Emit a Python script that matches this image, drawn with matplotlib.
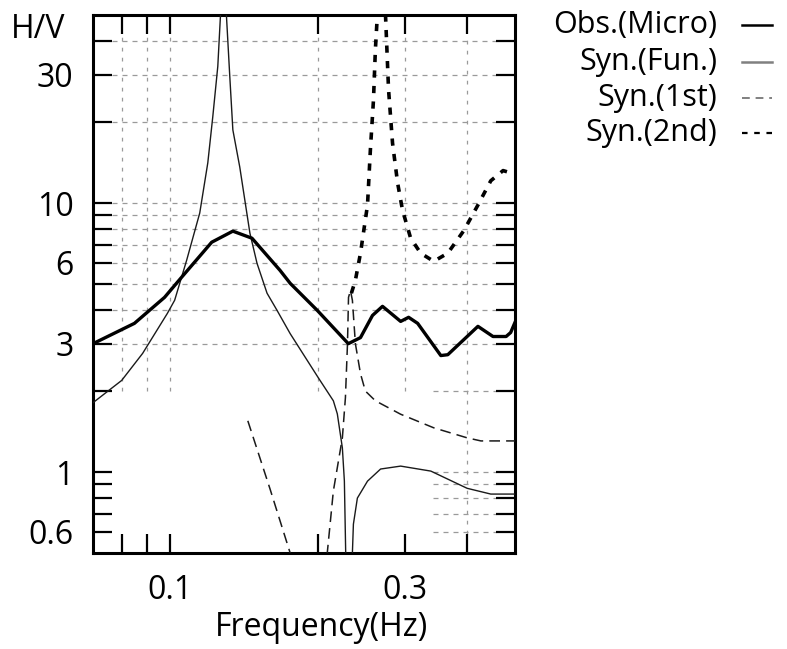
import numpy as np
import matplotlib
matplotlib.use("Agg")
import matplotlib.pyplot as plt
from matplotlib.lines import Line2D
from matplotlib.ticker import FixedLocator, FixedFormatter, NullLocator

plt.rcParams["font.family"] = ["Open Sans", "DejaVu Sans"]

# ---------------------------------------------------------------------------
# Data
# ---------------------------------------------------------------------------
obs_f = [0.07, 0.0849, 0.0977, 0.1058, 0.1217, 0.1343, 0.1468, 0.1673, 0.1754,
         0.199, 0.230, 0.2434, 0.2574, 0.2697, 0.2935, 0.3046, 0.3177, 0.3539,
         0.3656, 0.4207, 0.4513, 0.4797, 0.49, 0.5]
obs_hv = [3.0, 3.57, 4.46, 5.3, 7.15, 7.86, 7.40, 5.62, 5.03,
          3.99, 3.0, 3.16, 3.82, 4.13, 3.63, 3.76, 3.57, 2.71,
          2.73, 3.48, 3.19, 3.19, 3.3, 3.6]

fun_f = [0.07, 0.08, 0.0882, 0.099, 0.1024, 0.1083, 0.1151, 0.1195, 0.1223,
         0.1252, 0.1285, 0.1324, 0.1343, 0.1387, 0.1420, 0.1454, 0.1503, 0.1575,
         0.165, 0.1754, 0.2, 0.2145, 0.2185, 0.2237, 0.2258, 0.2272, 0.2295,
         0.2344, 0.2355, 0.2399, 0.2515, 0.2673, 0.2935, 0.3378, 0.4, 0.4467, 0.5]
fun_hv = [1.81, 2.19, 2.76, 3.89, 4.35, 6.13, 9.18, 14.1, 20.9,
          32.2, 80.0, 29.5, 18.7, 13.6, 10.26, 7.73, 5.97, 4.62,
          3.99, 3.27, 2.24, 1.84, 1.645, 1.23, 0.926, 0.5, 0.12,
          0.5, 0.64, 0.80, 0.925, 1.026, 1.052, 1.008, 0.87, 0.828, 0.828]

first_f = [0.144, 0.1597, 0.1754, 0.19, 0.2085, 0.2145, 0.2237, 0.2269, 0.2291,
           0.2302, 0.2323, 0.2344, 0.2377, 0.2434, 0.249, 0.2609, 0.2935, 0.3424,
           0.4, 0.4266, 0.5]
first_hv = [1.55, 0.865, 0.5, 0.25, 0.5, 0.85, 1.34, 1.89, 3.0,
            4.46, 4.73, 4.35, 3.0, 2.32, 2.0, 1.84, 1.64, 1.46,
            1.34, 1.305, 1.305]

second_f = [0.2333, 0.2377, 0.2434, 0.2515, 0.2549, 0.2586, 0.2609, 0.2633, 0.268,
            0.2735, 0.2774, 0.2826, 0.2893, 0.296, 0.3075, 0.3222, 0.3424, 0.3656,
            0.394, 0.4207, 0.4467, 0.473, 0.5]
second_hv = [4.62, 5.16, 6.51, 9.83, 15.8, 24.2, 37.2, 50.0, 80.0,
             50.0, 26.4, 16.7, 11.9, 9.42, 7.4, 6.51, 6.07, 6.51,
             7.9, 9.83, 12.1, 13.2, 12.8]

x_ticks = [0.08, 0.09, 0.1, 0.2, 0.3, 0.4]
x_labels = ["", "", "0.1", "", "0.3", ""]
y_ticks = [0.6, 0.7, 0.8, 0.9, 1, 2, 3, 4, 5, 6, 7, 8, 9, 10, 20, 30, 40]
y_labels = ["0.6", "", "", "", "1", "", "3", "", "", "6", "", "", "", "10", "", "30", ""]

legend_labels = ["Obs.(Micro)", "Syn.(Fun.)", "Syn.(1st)", "Syn.(2nd)"]

# ---------------------------------------------------------------------------
# Figure
# ---------------------------------------------------------------------------
W, H = 787, 649
fig = plt.figure(figsize=(W / 100, H / 100), dpi=100)
ax_l, ax_r, ax_t, ax_b = 93, 515, 15, 553
ax = fig.add_axes([ax_l / W, 1 - ax_b / H, (ax_r - ax_l) / W, (ax_b - ax_t) / H])
ax.set_xscale("log")
ax.set_yscale("log")
ax.set_xlim(0.07, 0.5)
ax.set_ylim(0.5, 50)

# grid segments (tick end to tick end, partly blanked as in the original)
gcol = "#9a9a9a"
tick_px = 19
gx0 = tick_px / (ax_r - ax_l)
gy0 = tick_px / (ax_b - ax_t)
x_433 = (433 - ax_l) / (ax_r - ax_l)
for yv in [40, 30, 20, 10, 9, 8, 7, 6, 5, 4, 3]:
    ax.plot([gx0, 1 - gx0], [yv, yv], transform=ax.get_yaxis_transform(),
            color=gcol, lw=0.9, ls=(0, (4, 4)), zorder=0)
for yv in [2, 1, 0.9, 0.8, 0.7, 0.6]:
    ax.plot([x_433, 1 - gx0], [yv, yv], transform=ax.get_yaxis_transform(),
            color=gcol, lw=0.9, ls=(0, (4, 4)), zorder=0)
y2_ax = (np.log10(2) - np.log10(0.5)) / 2.0
for xv in [0.08, 0.09, 0.1, 0.2, 0.3]:
    ax.plot([xv, xv], [y2_ax, 1 - gy0], transform=ax.get_xaxis_transform(),
            color=gcol, lw=0.9, ls=(0, (3, 5)), zorder=0)
ax.plot([0.4, 0.4], [gy0, 1 - gy0], transform=ax.get_xaxis_transform(),
        color=gcol, lw=0.9, ls=(0, (3, 5)), zorder=0)

# curves
ax.plot(obs_f, obs_hv, color="black", lw=2.4, zorder=5)
ax.plot(fun_f, fun_hv, color="#1a1a1a", lw=1.0, zorder=4)
ax.plot(first_f, first_hv, color="#1a1a1a", lw=1.1, ls=(0, (7, 4)), zorder=4)
ax.plot(second_f, second_hv, color="black", lw=2.6, ls=(0, (2.0, 2.3)),
        dash_capstyle="butt", zorder=4)

# ticks
ax.xaxis.set_major_locator(FixedLocator(x_ticks))
ax.xaxis.set_major_formatter(FixedFormatter(x_labels))
ax.xaxis.set_minor_locator(NullLocator())
ax.yaxis.set_major_locator(FixedLocator(y_ticks))
ax.yaxis.set_major_formatter(FixedFormatter(y_labels))
ax.yaxis.set_minor_locator(NullLocator())
ax.tick_params(which="major", direction="in", length=tick_px * 0.72, width=1.6,
               top=True, right=True, labelsize=23, color="black")
ax.tick_params(axis="x", pad=15)
ax.tick_params(axis="y", pad=14)
for spine in ax.spines.values():
    spine.set_linewidth(2.2)

fig.text(322 / W, 1 - 628 / H, "Frequency(Hz)", ha="center", va="center", fontsize=23)
fig.text(38 / W, 1 - 30 / H, "H/V", ha="center", va="center", fontsize=23)

# legend (drawn by hand, text right aligned, sample on the right)
leg_rows = [25, 62, 98, 133]
leg_styles = [
    dict(color="black", lw=1.8, ls="-"),
    dict(color="#808080", lw=1.8, ls="-"),
    dict(color="#808080", lw=1.4, ls=(0, (4, 3))),
    dict(color="black", lw=1.6, ls=(0, (2.5, 3))),
]
for lab, yy, st in zip(legend_labels, leg_rows, leg_styles):
    fig.text(717 / W, 1 - yy / H, lab, ha="right", va="center", fontsize=22)
    fig.add_artist(Line2D([742 / W, 772 / W], [1 - yy / H, 1 - yy / H],
                          transform=fig.transFigure, **st))

fig.savefig("out.png", dpi=100)
